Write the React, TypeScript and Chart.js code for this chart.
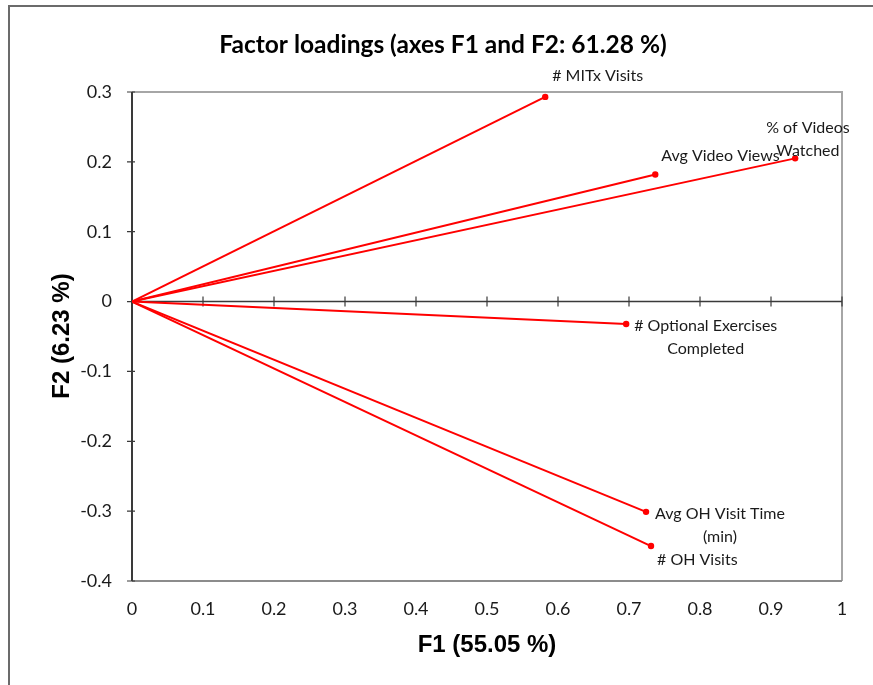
import React, { useEffect, useRef } from "react";
import { Chart, registerables } from "chart.js";

Chart.register(...registerables);

const variables = [
  "# MITx Visits",
  "% of Videos Watched",
  "Avg Video Views",
  "# Optional Exercises Completed",
  "Avg OH Visit Time (min)",
  "# OH Visits",
];
const f1Loadings = [0.582, 0.934, 0.737, 0.696, 0.724, 0.731];
const f2Loadings = [0.293, 0.205, 0.182, -0.032, -0.301, -0.350];
const labelLines = [
  ["# MITx Visits"],
  ["% of Videos", "Watched"],
  ["Avg Video Views"],
  ["# Optional Exercises", "Completed"],
  ["Avg OH Visit Time", "(min)"],
  ["# OH Visits"],
];
// label block offsets relative to point pixel: [left edge dx, first line center dy]
const labelOffsets = [
  [7, -21],
  [-29, -31],
  [6, -19],
  [8, 2],
  [9, 2],
  [6, 14],
];
const xTickValues = [0, 0.1, 0.2, 0.3, 0.4, 0.5, 0.6, 0.7, 0.8, 0.9, 1];
const yTickValues = [-0.4, -0.3, -0.2, -0.1, 0, 0.1, 0.2, 0.3];

const chartTitle = "Factor loadings (axes F1 and F2: 61.28 %)";
const xTitle = "F1 (55.05 %)";
const yTitle = "F2 (6.23 %)";

const LABEL_FONT = "16px Lato";

const decorPlugin = {
  id: "decor",
  beforeDatasetsDraw(chart: any) {
    const { ctx, chartArea, scales } = chart;
    const { left, right, top, bottom } = chartArea;
    const xs = scales.x;
    const ys = scales.y;
    ctx.save();
    // outer frame
    ctx.strokeStyle = "#6b6b6b";
    ctx.lineWidth = 2;
    ctx.beginPath();
    ctx.moveTo(9, 690);
    ctx.lineTo(9, 6);
    ctx.lineTo(880, 6);
    ctx.stroke();
    // plot border top/right
    ctx.strokeStyle = "#a6a6a6";
    ctx.lineWidth = 2;
    ctx.beginPath();
    ctx.moveTo(left, top);
    ctx.lineTo(right, top);
    ctx.lineTo(right, bottom);
    ctx.stroke();
    // bottom line
    ctx.strokeStyle = "#8c8c8c";
    ctx.beginPath();
    ctx.moveTo(left, bottom);
    ctx.lineTo(right, bottom);
    ctx.stroke();
    // y axis line at x=0
    const x0 = xs.getPixelForValue(0);
    const y0 = ys.getPixelForValue(0);
    ctx.strokeStyle = "#3a3a3a";
    ctx.lineWidth = 2;
    ctx.beginPath();
    ctx.moveTo(x0, top);
    ctx.lineTo(x0, bottom);
    ctx.stroke();
    // x axis line at y=0
    ctx.lineWidth = 1.5;
    ctx.beginPath();
    ctx.moveTo(left, y0);
    ctx.lineTo(right, y0);
    ctx.stroke();
    ctx.lineWidth = 1.2;
    ctx.beginPath();
    for (const v of xTickValues) {
      const px = xs.getPixelForValue(v);
      ctx.moveTo(px, y0 - 5);
      ctx.lineTo(px, y0 + 5);
    }
    for (const v of yTickValues) {
      const py = ys.getPixelForValue(v);
      ctx.moveTo(x0 - 5, py);
      ctx.lineTo(x0 + 3, py);
    }
    ctx.stroke();
    // title
    ctx.fillStyle = "#000";
    ctx.textAlign = "center";
    ctx.textBaseline = "middle";
    ctx.font = "bold 24.5px Lato";
    ctx.fillText(chartTitle, 443, 45);
    ctx.font = "bold 24px 'Liberation Sans'";
    ctx.fillText(xTitle, 487, 645);
    ctx.translate(62, 336);
    ctx.rotate(-Math.PI / 2);
    ctx.fillText(yTitle, 0, 0);
    ctx.restore();
  },
  afterDatasetsDraw(chart: any) {
    const { ctx, scales } = chart;
    ctx.save();
    ctx.font = LABEL_FONT;
    ctx.fillStyle = "#1a1a1a";
    ctx.textBaseline = "middle";
    ctx.textAlign = "center";
    labelLines.forEach((lines, i) => {
      const px = scales.x.getPixelForValue(f1Loadings[i]);
      const py = scales.y.getPixelForValue(f2Loadings[i]);
      const w = Math.max(...lines.map((l) => ctx.measureText(l).width));
      const cx = px + labelOffsets[i][0] + w / 2;
      lines.forEach((l, j) => {
        ctx.fillText(l, cx, py + labelOffsets[i][1] + j * 23);
      });
    });
    ctx.restore();
  },
};

export default function App() {
  const ref = useRef<HTMLCanvasElement>(null);
  useEffect(() => {
    document.body.style.margin = "0";
    const canvas = ref.current!;
    const chart = new Chart(canvas, {
      type: "scatter",
      data: {
        datasets: variables.map((name, i) => ({
          label: name,
          data: [
            { x: 0, y: 0 },
            { x: f1Loadings[i], y: f2Loadings[i] },
          ],
          showLine: true,
          borderColor: "#ff0000",
          backgroundColor: "#ff0000",
          borderWidth: 2,
          pointRadius: [0, 3.2],
          pointBorderWidth: 0,
        })),
      },
      options: {
        responsive: false,
        animation: false,
        devicePixelRatio: 1,
        layout: { padding: { top: 92, right: 31, left: 0, bottom: 0 } },
        plugins: {
          legend: { display: false },
          tooltip: { enabled: false },
          title: { display: false },
        },
        scales: {
          x: {
            type: "linear",
            min: 0,
            max: 1,
            afterFit: (s: any) => {
              s.height = 104;
            },
            afterBuildTicks: (s: any) => {
              s.ticks = xTickValues.map((v) => ({ value: v }));
            },
            grid: { display: false, drawTicks: false },
            border: { display: false },
            ticks: {
              font: { family: "Lato", size: 18 },
              color: "#1a1a1a",
              padding: 17,
              maxRotation: 0,
              callback: (v: any) => String(Number(Number(v).toFixed(1))),
            },
          },
          y: {
            type: "linear",
            min: -0.4,
            max: 0.3,
            afterFit: (s: any) => {
              s.width = 132;
            },
            afterBuildTicks: (s: any) => {
              s.ticks = yTickValues.map((v) => ({ value: v }));
            },
            grid: { display: false, drawTicks: false },
            border: { display: false },
            ticks: {
              font: { family: "Lato", size: 18 },
              color: "#1a1a1a",
              padding: 20,
              callback: (v: any) => String(Number(Number(v).toFixed(1))),
            },
          },
        },
      },
      plugins: [decorPlugin],
    });
    return () => chart.destroy();
  }, []);
  return (
    <canvas
      ref={ref}
      width={873}
      height={685}
      style={{ display: "block", width: 873, height: 685 }}
    />
  );
}
